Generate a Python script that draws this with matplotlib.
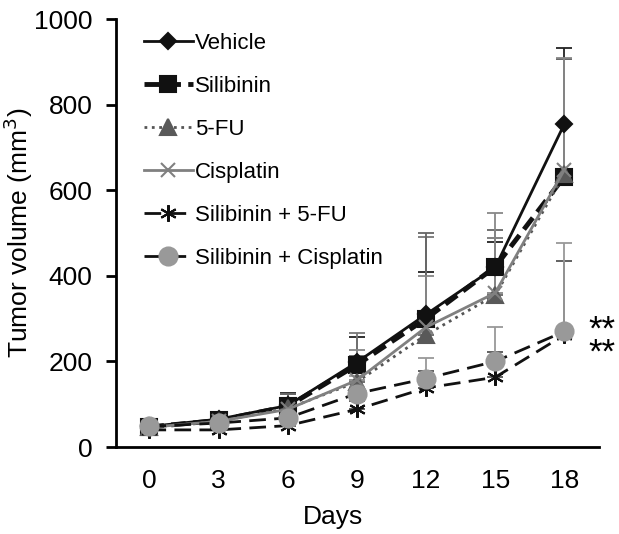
import numpy as np
import matplotlib.pyplot as plt

plt.rcParams['font.family'] = ['Liberation Sans', 'DejaVu Sans']

days = [0, 3, 6, 9, 12, 15, 18]

vehicle = [48, 65, 97, 198, 310, 420, 755]
silibinin = [47, 62, 95, 192, 300, 421, 632]
fu5 = [46, 60, 90, 152, 262, 355, 638]
cisplatin = [46, 60, 88, 156, 280, 360, 648]
sil_fu5 = [40, 40, 50, 88, 138, 163, 262]
sil_cis = [48, 56, 68, 125, 160, 200, 270]

# upper error bars (SD)
vehicle_err = [8, 10, 30, 60, 100, 60, 178]
silibinin_err = [8, 10, 30, 75, 190, 68, 275]
fu5_err = [6, 10, 35, 60, 238, 152, 268]
cisplatin_err = [6, 8, 25, 70, 120, 187, 260]
sil_fu5_err = [5, 8, 10, 20, 40, 60, 173]
sil_cis_err = [5, 8, 12, 40, 48, 80, 206]

labels = ['Vehicle', 'Silibinin', '5-FU', 'Cisplatin',
	'Silibinin + 5-FU', 'Silibinin + Cisplatin']

def draw_series(ax, y, err, label, color, ecolor, ls, lw, marker, ms, mfc, dashes=None):
	''' one series: upward error bars, line and markers '''
	ax.errorbar(days, y, yerr=[np.zeros(len(err)), err], fmt='none',
		ecolor=ecolor, elinewidth=1.3, capsize=6, capthick=1.3, zorder=1)
	line, = ax.plot(days, y, ls=ls, lw=lw, color=color, marker=marker, ms=ms,
		mfc=mfc, mec=mfc, mew=1.5, label=label, zorder=3)
	if dashes is not None:
		line.set_dashes(dashes)
	return line

fig = plt.figure(figsize=(6.19, 5.34), dpi=100)
ax = fig.add_axes([0.1874, 0.1629, 0.7803, 0.8015])

draw_series(ax, vehicle, vehicle_err, labels[0], '#111111', '#222222', '-', 2, 'D', 8, '#111111')
draw_series(ax, silibinin, silibinin_err, labels[1], '#111111', '#777777', '--', 3.5, 's', 12, '#111111', dashes=(3, 1.5))
draw_series(ax, fu5, fu5_err, labels[2], '#555555', '#666666', ':', 2, '^', 11, '#595959')
draw_series(ax, cisplatin, cisplatin_err, labels[3], '#808080', '#888888', '-', 2, 'x', 10, '#808080')
draw_series(ax, sil_fu5, sil_fu5_err, labels[4], '#111111', '#555555', '--', 2, (6, 2, 0), 12, '#111111', dashes=(6, 3))
draw_series(ax, sil_cis, sil_cis_err, labels[5], '#111111', '#999999', '--', 2, 'o', 13, '#999999', dashes=(6, 3))

ax.set_xlim(-1.45, 19.5)
ax.set_ylim(0, 1000)
ax.set_xticks(days)
ax.set_yticks([0, 200, 400, 600, 800, 1000])
ax.tick_params(axis='x', length=0, labelsize=19, pad=16)
ax.tick_params(axis='y', length=7, width=2, labelsize=19, pad=10)
ax.spines['top'].set_visible(False)
ax.spines['right'].set_visible(False)
ax.spines['left'].set_linewidth(2)
ax.spines['bottom'].set_linewidth(2)
ax.set_xlabel('Days', fontsize=19)
ax.set_ylabel('Tumor volume (mm$^3$)', fontsize=19)
ax.xaxis.set_label_coords(0.449, -0.135)
ax.yaxis.set_label_coords(-0.168, 0.5)

ax.legend(loc='upper left', bbox_to_anchor=(0.016, 1.015), frameon=False,
	fontsize=16, handlelength=2.2, handletextpad=0.1, labelspacing=0.99)

# significance marks, two rows in one text
fig.text(0.950, 0.3202, '**\n**', fontsize=25, ha='left', va='baseline',
	linespacing=0.62)

plt.savefig('out.png', dpi=100)
